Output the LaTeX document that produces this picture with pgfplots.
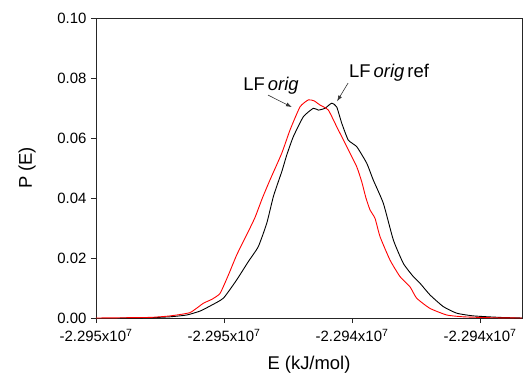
\documentclass[border=0pt]{standalone}
\usepackage{pgfplots}
\pgfplotsset{compat=1.18}
\usepackage{fontspec}
\setmainfont{Liberation Sans}
\usetikzlibrary{arrows.meta}
\begin{document}
\begin{tikzpicture}
\begin{axis}[
  scale only axis,
  width=426bp, height=300bp,
  xmin=0, xmax=3.328, ymin=0, ymax=0.10,
  axis line style={line width=0.9bp, black!85},
  tick style={line width=0.9bp, black!85},
  tick align=outside, tick pos=left,
  major tick length=5bp,
  xtick={0,1,2,3},
  xticklabels={-2.295x10\textsuperscript{7},-2.295x10\textsuperscript{7},-2.294x10\textsuperscript{7},-2.294x10\textsuperscript{7}},
  ytick={0,0.02,0.04,0.06,0.08,0.10},
  /pgf/number format/assume math mode=true,
  yticklabel style={/pgf/number format/fixed, /pgf/number format/fixed zerofill, /pgf/number format/precision=2, font=\fontsize{15}{17}\selectfont, xshift=-1bp},
  xticklabel style={font=\fontsize{15}{17}\selectfont, yshift=-3bp},
  xlabel={E (kJ/mol)}, ylabel={P (E)},
  label style={font=\fontsize{18.5}{21}\selectfont},
  xlabel style={at={(axis description cs:0.5,-0.157)}, anchor=center},
  ylabel style={at={(axis description cs:-0.162,0.5)}, anchor=center},
  clip=true,
]
\addplot[black, line width=0.9bp, smooth, tension=0.3] coordinates {
(0.1875,0) (0.422,0.0001) (0.578,0.0004) (0.709,0.001) (0.8125,0.0023)
(0.891,0.004) (0.995,0.0066) (1.099,0.0127) (1.19,0.0188) (1.268,0.0238)
(1.334,0.0316) (1.385,0.0404) (1.424,0.0454) (1.453,0.0490) (1.49,0.0543)
(1.541,0.0604) (1.62,0.0671) (1.698,0.0699) (1.737,0.0693) (1.789,0.0699)
(1.841,0.0716) (1.88,0.0704) (1.92,0.0649) (1.971,0.0593) (2.037,0.0571)
(2.115,0.0516) (2.166,0.046) (2.245,0.0382) (2.323,0.026) (2.401,0.0182)
(2.479,0.0138) (2.531,0.0116) (2.609,0.0077) (2.713,0.0038) (2.818,0.0016)
(2.948,0.0007) (3.156,0.0002) (3.328,0)
};
\addplot[red, line width=0.9bp, smooth, tension=0.3] coordinates {
(0,0) (0.422,0.0002) (0.578,0.0007) (0.734,0.0018) (0.838,0.0049)
(0.904,0.0062) (0.969,0.0082) (1.034,0.0143) (1.099,0.021) (1.177,0.0277)
(1.242,0.0335) (1.300,0.0400) (1.359,0.0460) (1.451,0.0549)
(1.516,0.0627) (1.594,0.0704) (1.659,0.0727) (1.703,0.0724) (1.75,0.071)
(1.815,0.0693) (1.88,0.0638) (1.959,0.0571) (2.037,0.0504) (2.076,0.0454)
(2.109,0.040) (2.141,0.036) (2.18,0.0332) (2.219,0.0271) (2.297,0.0193)
(2.375,0.0138) (2.453,0.0104) (2.505,0.0066) (2.609,0.0032) (2.74,0.001)
(2.867,0.0004) (3.078,0.0001) (3.328,0)
};
\node[font=\fontsize{18.5}{21}\selectfont, anchor=center] at (axis cs:1.367,0.0775) {LF\,\textit{orig}};
\node[font=\fontsize{18.5}{21}\selectfont, anchor=center] at (axis cs:2.289,0.0818) {LF\,\textit{orig}\,ref};
\draw[black!80, line width=0.6bp, -{Latex[length=6bp,width=4bp]}] (axis cs:1.344,0.0743) -- (axis cs:1.531,0.0703);
\draw[black!80, line width=0.6bp, -{Latex[length=6bp,width=4bp]}] (axis cs:1.969,0.0783) -- (axis cs:1.883,0.0722);
\end{axis}
\pgfresetboundingbox
\path (-96bp,-63bp) rectangle (430bp,318bp);
\end{tikzpicture}
\end{document}
